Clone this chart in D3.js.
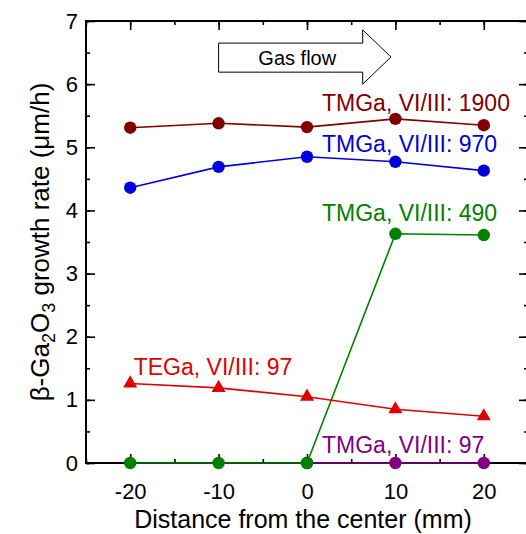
<!DOCTYPE html>
<html>
<head>
<meta charset="utf-8">
<script src="https://cdn.jsdelivr.net/npm/d3@7"></script>
<style>
  html, body { margin: 0; padding: 0; background: #fff; }
  svg { display: block; font-family: "Liberation Sans", Arial, sans-serif; }
</style>
</head>
<body>
<div id="chart"></div>
<script>
// growth rate vs. position on susceptor
var positions = [-20, -10, 0, 10, 20];
var tmga1900 = [5.31, 5.38, 5.32, 5.45, 5.35];
var tmga970 = [4.36, 4.69, 4.85, 4.77, 4.63];
var tmga490 = [0, 0, 0, 3.63, 3.61];
var tega97 = [1.26, 1.19, 1.05, 0.85, 0.74];
var tmga97Pos = [0, 10, 20];
var tmga97 = [0, 0, 0];

var xTicks = [-20, -10, 0, 10, 20];
var yTicks = [0, 1, 2, 3, 4, 5, 6, 7];

var W = 526, H = 534;
var plotL = 86, plotR = 528, plotT = 21, plotB = 463;

var svg = d3.select('#chart').append('svg')
  .attr('width', W)
  .attr('height', H);

var x = d3.scaleLinear().domain([-25, 25]).range([plotL, plotR]);
var y = d3.scaleLinear().domain([0, 7]).range([plotB, plotT]);

var minorX = d3.range(-25, 25.01, 5);
var minorY = d3.range(0, 7.01, 0.5);

function tickAxis(axis, values, size) {
  return axis.tickValues(values).tickSize(size).tickFormat('');
}
function plainNum(d) { return String(d); } // hyphen minus, like the original

// minor ticks (inward, all four sides)
svg.append('g').attr('transform', 'translate(0,' + plotB + ')')
  .call(tickAxis(d3.axisBottom(x), minorX, -4));
svg.append('g').attr('transform', 'translate(0,' + plotT + ')')
  .call(tickAxis(d3.axisTop(x), minorX, -4));
svg.append('g').attr('transform', 'translate(' + plotL + ',0)')
  .call(tickAxis(d3.axisLeft(y), minorY, -4));
svg.append('g').attr('transform', 'translate(' + plotR + ',0)')
  .call(tickAxis(d3.axisRight(y), minorY, -4));

// major ticks
svg.append('g').attr('transform', 'translate(0,' + plotT + ')')
  .call(tickAxis(d3.axisTop(x), xTicks, -9));
svg.append('g').attr('transform', 'translate(' + plotR + ',0)')
  .call(tickAxis(d3.axisRight(y), yTicks, -9));

var xAxis = svg.append('g').attr('transform', 'translate(0,' + plotB + ')')
  .call(d3.axisBottom(x).tickValues(xTicks).tickSize(-9).tickPadding(16)
    .tickFormat(plainNum));
var yAxis = svg.append('g').attr('transform', 'translate(' + plotL + ',0)')
  .call(d3.axisLeft(y).tickValues(yTicks).tickSize(-9).tickPadding(8)
    .tickFormat(plainNum));

svg.selectAll('.domain').remove();
svg.selectAll('.tick line').attr('stroke', '#000').attr('stroke-width', 1.6);
[xAxis, yAxis].forEach(function (g) {
  g.selectAll('text')
    .attr('font-size', '22px')
    .attr('font-family', '"Liberation Sans", Arial, sans-serif')
    .attr('fill', '#000');
});
xAxis.selectAll('text').attr('dy', '0.9em');

// frame
svg.append('rect')
  .attr('x', plotL).attr('y', plotT)
  .attr('width', plotR - plotL).attr('height', plotB - plotT)
  .attr('fill', 'none').attr('stroke', '#000').attr('stroke-width', 2);

// axis titles
svg.append('text')
  .attr('x', x(0) - 4).attr('y', 528)
  .attr('text-anchor', 'middle')
  .attr('font-size', '25px')
  .text('Distance from the center (mm)');

var yt = svg.append('text')
  .attr('transform', 'translate(49,' + (plotT + plotB) / 2 + ') rotate(-90)')
  .attr('text-anchor', 'middle')
  .attr('font-size', '26px');
yt.append('tspan').text('β-Ga');
yt.append('tspan').attr('font-size', '18px').attr('dy', 6).text('2');
yt.append('tspan').attr('dy', -6).text('O');
yt.append('tspan').attr('font-size', '18px').attr('dy', 6).text('3');
yt.append('tspan').attr('dy', -6).text(' growth rate (μm/h)');

// gas flow arrow
var arrowPts = [[-10, 6.65], [6.3, 6.65], [6.3, 6.86], [9.5, 6.43], [6.3, 6.0], [6.3, 6.19], [-10, 6.19]];
svg.append('path')
  .attr('d', d3.line().x(function (d) { return x(d[0]); }).y(function (d) { return y(d[1]); })(arrowPts) + 'Z')
  .attr('fill', '#fff').attr('stroke', '#000').attr('stroke-width', 1);
svg.append('text')
  .attr('x', x(-1.1)).attr('y', y(6.30))
  .attr('text-anchor', 'middle')
  .attr('font-size', '20px')
  .text('Gas flow');

// series
var series = [
  { xs: tmga97Pos, ys: tmga97, color: '#800080', shape: 'circle' },
  { xs: positions, ys: tmga490, color: '#008000', shape: 'circle' },
  { xs: positions, ys: tega97, color: '#e00000', shape: 'triangle' },
  { xs: positions, ys: tmga970, color: '#0000dd', shape: 'circle' },
  { xs: positions, ys: tmga1900, color: '#800000', shape: 'circle' }
];

var line = d3.line().x(function (d) { return x(d[0]); }).y(function (d) { return y(d[1]); });

series.forEach(function (s) {
  var pts = s.xs.map(function (v, i) { return [v, s.ys[i]]; });
  var g = svg.append('g');
  g.append('path')
    .attr('d', line(pts))
    .attr('fill', 'none')
    .attr('stroke', s.color)
    .attr('stroke-width', 1.6);
  if (s.shape === 'circle') {
    g.selectAll('circle').data(pts).join('circle')
      .attr('cx', function (d) { return x(d[0]); })
      .attr('cy', function (d) { return y(d[1]); })
      .attr('r', 6.2)
      .attr('fill', s.color);
  } else {
    g.selectAll('path.m').data(pts).join('path')
      .attr('class', 'm')
      .attr('d', d3.symbol(d3.symbolTriangle, 85))
      .attr('transform', function (d) { return 'translate(' + x(d[0]) + ',' + y(d[1]) + ')'; })
      .attr('fill', s.color);
  }
});

// series labels
var labels = [
  { text: 'TMGa, VI/III: 1900', px: 1.7, py: 5.57, color: '#800000' },
  { text: 'TMGa, VI/III: 970', px: 1.7, py: 4.92, color: '#0000dd' },
  { text: 'TMGa, VI/III: 490', px: 1.7, py: 3.83, color: '#008000' },
  { text: 'TEGa, VI/III: 97', px: -19.6, py: 1.39, color: '#e00000' },
  { text: 'TMGa, VI/III: 97', px: 1.7, py: 0.16, color: '#800080' }
];
svg.selectAll('text.lbl').data(labels).join('text')
  .attr('class', 'lbl')
  .attr('x', function (d) { return x(d.px); })
  .attr('y', function (d) { return y(d.py); })
  .attr('font-size', '23px')
  .attr('fill', function (d) { return d.color; })
  .text(function (d) { return d.text; });
</script>
</body>
</html>
